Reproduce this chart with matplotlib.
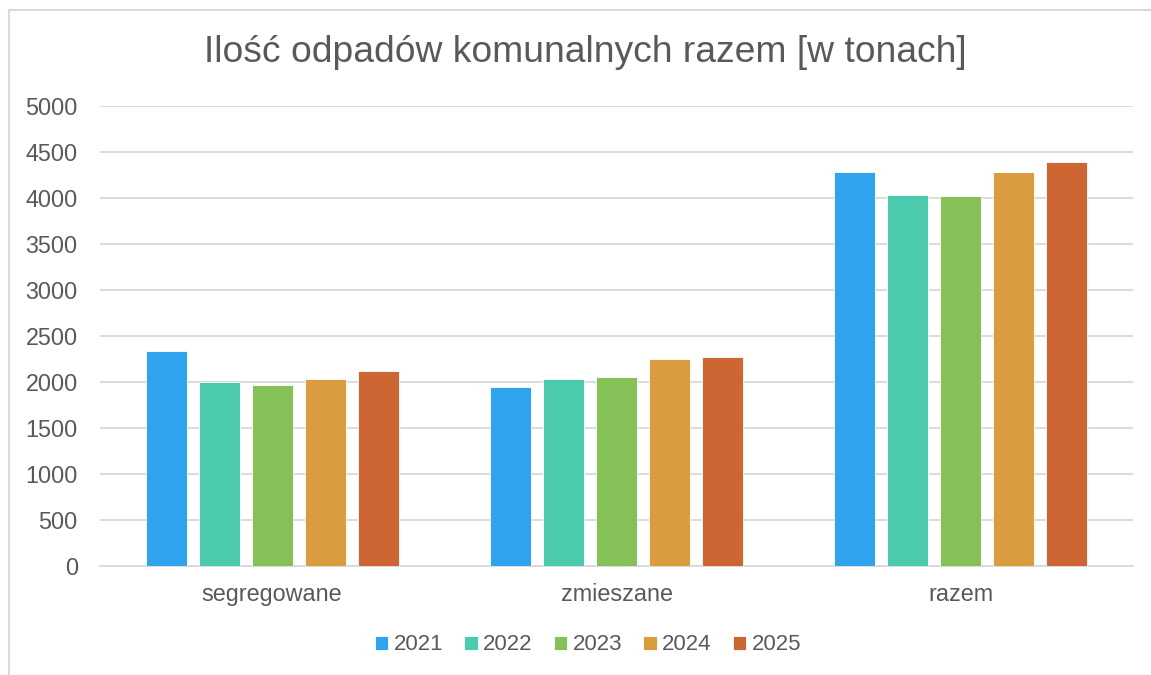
import matplotlib.pyplot as plt
import numpy as np
from matplotlib.patches import Rectangle

categories = ['segregowane', 'zmieszane', 'razem']
years = ['2021', '2022', '2023', '2024', '2025']
v2021 = [2335, 1948, 4283]
v2022 = [1998, 2030, 4032]
v2023 = [1970, 2057, 4024]
v2024 = [2028, 2248, 4278]
v2025 = [2122, 2274, 4390]
series = [v2021, v2022, v2023, v2024, v2025]
colors = ['#2FA3EE', '#4BCAAD', '#86C157', '#D99C3F', '#CE6633']

plt.rcParams['font.family'] = ['Liberation Sans', 'DejaVu Sans']
txt = '#595959'

fig = plt.figure(figsize=(11.51, 6.75), dpi=100)
ax = fig.add_axes([100/1151, 1-566/675, 1033/1151, 460/675])

# chart border (cropped on right/bottom)
fig.patches.append(Rectangle((8.5/1151, -0.1), 1.2, 1.1 - 10.5/675,
                             transform=fig.transFigure, fill=False,
                             edgecolor='#D9D9D9', lw=1.5))

x = np.arange(len(categories))
step = 53/344.3
w = 41/344.3
for i, (vals, c, y) in enumerate(zip(series, colors, years)):
    ax.bar(x + (i - 2) * step, vals, w, color=c, label=y,
           edgecolor='white', linewidth=0.6, zorder=3)

ax.set_xlim(-0.5, 2.5)
ax.set_ylim(0, 5000)
ax.set_yticks(range(0, 5001, 500))
ax.yaxis.grid(True, color='#D9D9D9', lw=1.3, zorder=0)
ax.set_xticks(x)
ax.set_xticklabels(categories)
ax.tick_params(axis='both', length=0, labelsize=16.8, labelcolor=txt)
ax.tick_params(axis='x', pad=12)
ax.tick_params(axis='y', pad=16)
for s in ['top', 'right', 'left']:
    ax.spines[s].set_visible(False)
ax.spines['bottom'].set_color('#D9D9D9')
ax.spines['bottom'].set_linewidth(1.3)

fig.text(585/1151, 1 - 53/675, 'Ilość odpadów komunalnych razem [w tonach]',
         ha='center', va='center', fontsize=26.8, color=txt)

fig.legend(loc='center', bbox_to_anchor=(588/1151, 1 - 645/675), ncol=5,
           frameon=False, fontsize=16, handlelength=0.6, handleheight=0.6,
           handletextpad=0.25, columnspacing=0.95, labelcolor=txt)

fig.savefig('out.png', dpi=100)
